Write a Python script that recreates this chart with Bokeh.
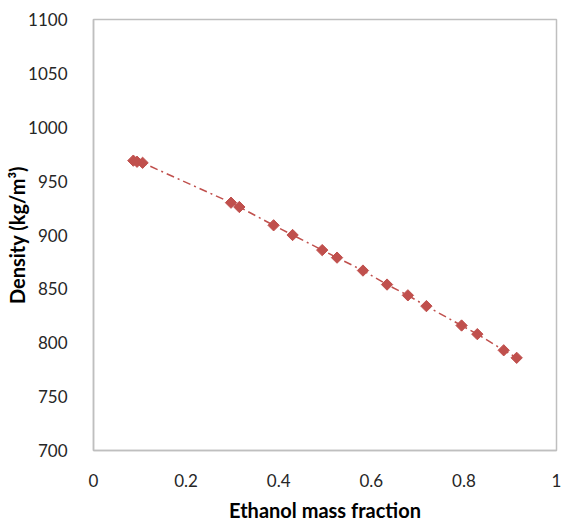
import math
from bokeh.plotting import figure
from bokeh.models import FixedTicker, NumeralTickFormatter, Range1d
from bokeh.embed import file_html
from bokeh.resources import INLINE

ethanol_fraction = [0.086, 0.094, 0.106, 0.297, 0.315, 0.389, 0.430, 0.494, 0.526,
                    0.582, 0.634, 0.679, 0.719, 0.795, 0.829, 0.886, 0.914]
density = [969, 968, 967, 930, 926, 909, 900, 886, 879,
           867, 854, 844, 834, 816, 808, 793, 786]
x_ticks = [0, 0.2, 0.4, 0.6, 0.8, 1]
y_ticks = [700, 750, 800, 850, 900, 950, 1000, 1050, 1100]

COLOR = "#C0504D"
FONT = "Lato"

p = figure(width=564, height=524, output_backend="svg", toolbar_location=None,
           x_range=Range1d(0, 1), y_range=Range1d(700, 1100))
p.min_border_left = 93
p.min_border_right = 8
p.min_border_top = 19
p.min_border_bottom = 74
p.background_fill_color = "white"
p.border_fill_color = "white"
p.outline_line_color = "#BFBFBF"
p.outline_line_width = 1.5
p.xgrid.visible = False
p.ygrid.visible = False

p.line(ethanol_fraction, density, line_color=COLOR, line_width=1.5, line_dash="8 4 2 4")
p.scatter(ethanol_fraction, density, marker="square", size=8, angle=math.pi / 4,
          fill_color=COLOR, line_color=COLOR)

for ax in (p.xaxis[0], p.yaxis[0]):
    ax.axis_line_color = "#BFBFBF"
    ax.axis_line_width = 1.5
    ax.major_tick_line_color = None
    ax.minor_tick_line_color = None
    ax.major_label_text_font = FONT
    ax.major_label_text_font_size = "17px"
    ax.major_label_text_color = "#262626"
    ax.axis_label_text_font = FONT
    ax.axis_label_text_font_size = "20px"
    ax.axis_label_text_font_style = "bold"
    ax.axis_label_text_color = "#000000"

p.xaxis.ticker = FixedTicker(ticks=x_ticks)
p.yaxis.ticker = FixedTicker(ticks=y_ticks)
p.xaxis.formatter = NumeralTickFormatter(format="0.[0]")
p.xaxis.axis_label = "Ethanol mass fraction"
p.yaxis.axis_label = "Density (kg/m³)"
p.xaxis.major_label_standoff = 17
p.yaxis.major_label_standoff = 20
p.xaxis.axis_label_standoff = 8
p.yaxis.axis_label_standoff = -4

open("out.html", "w").write(file_html(p, INLINE))
